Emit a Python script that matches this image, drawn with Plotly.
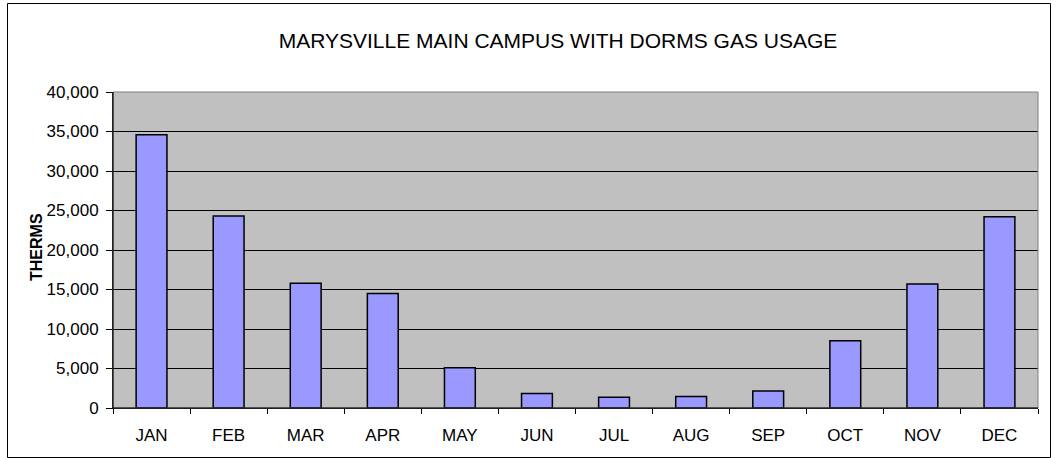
import plotly.graph_objects as go

months = ["JAN", "FEB", "MAR", "APR", "MAY", "JUN", "JUL", "AUG", "SEP", "OCT", "NOV", "DEC"]
therms = [34600, 24300, 15800, 14500, 5100, 1850, 1350, 1450, 2150, 8500, 15700, 24200]
y_ticks = [0, 5000, 10000, 15000, 20000, 25000, 30000, 35000, 40000]

W, H = 1059, 458
L, R, T, B = 113, 21, 92, 50
pw, ph = W - L - R, H - T - B

def px_x(p):
    return (p - L) / pw

def px_y(p):
    return (H - B - p) / ph

fig = go.Figure()
fig.add_trace(go.Bar(
    x=months, y=therms,
    marker=dict(color="#9999FF", line=dict(color="#000000", width=1.5)),
    width=0.4,
))

fig.update_layout(
    width=W, height=H,
    margin=dict(l=L, r=R, t=T, b=B, pad=0),
    paper_bgcolor="#FFFFFF",
    plot_bgcolor="#C0C0C0",
    showlegend=False,
    font=dict(family="Liberation Sans, Arial, sans-serif", size=17, color="#000000"),
    title=dict(
        text="MARYSVILLE MAIN CAMPUS WITH DORMS GAS USAGE",
        x=558 / W, xref="container", xanchor="center",
        y=1 - 41 / H, yref="container", yanchor="middle",
        font=dict(size=21, color="#000000"),
    ),
    xaxis=dict(
        showgrid=False, showline=True, linecolor="#000000", linewidth=1,
        ticks="outside", tickson="boundaries", ticklen=5, tickcolor="#000000",
        ticklabelstandoff=12, zeroline=False,
    ),
    yaxis=dict(
        range=[0, 40000], tickvals=y_ticks, tickformat=",",
        showgrid=True, gridcolor="#000000", gridwidth=1,
        showline=True, linecolor="#000000", linewidth=1,
        ticks="outside", ticklen=6, tickcolor="#000000",
        ticklabelstandoff=4, zeroline=False,
    ),
    shapes=[
        dict(type="rect", xref="paper", yref="paper", x0=0, x1=1, y0=0, y1=1,
             line=dict(color="#808080", width=1), fillcolor="rgba(0,0,0,0)", layer="above"),
        dict(type="line", xref="paper", yref="paper", x0=0, x1=0, y0=0, y1=1,
             line=dict(color="#000000", width=1), layer="above"),
        dict(type="line", xref="paper", yref="paper", x0=0, x1=1, y0=0, y1=0,
             line=dict(color="#000000", width=1), layer="above"),
        dict(type="rect", xref="paper", yref="paper",
             x0=px_x(7.5), x1=px_x(1050.5), y0=px_y(457.5), y1=px_y(3.5),
             line=dict(color="#000000", width=1), fillcolor="rgba(0,0,0,0)"),
    ],
    annotations=[
        dict(text="<b>THERMS</b>", textangle=-90, xref="paper", yref="paper",
             x=px_x(37), y=px_y(247), xanchor="center", yanchor="middle",
             showarrow=False, font=dict(size=16, color="#000000")),
    ],
)

fig.write_html("out.html", config={"displayModeBar": False},
               post_script="document.body.style.margin='0px';document.body.style.overflow='hidden';")
